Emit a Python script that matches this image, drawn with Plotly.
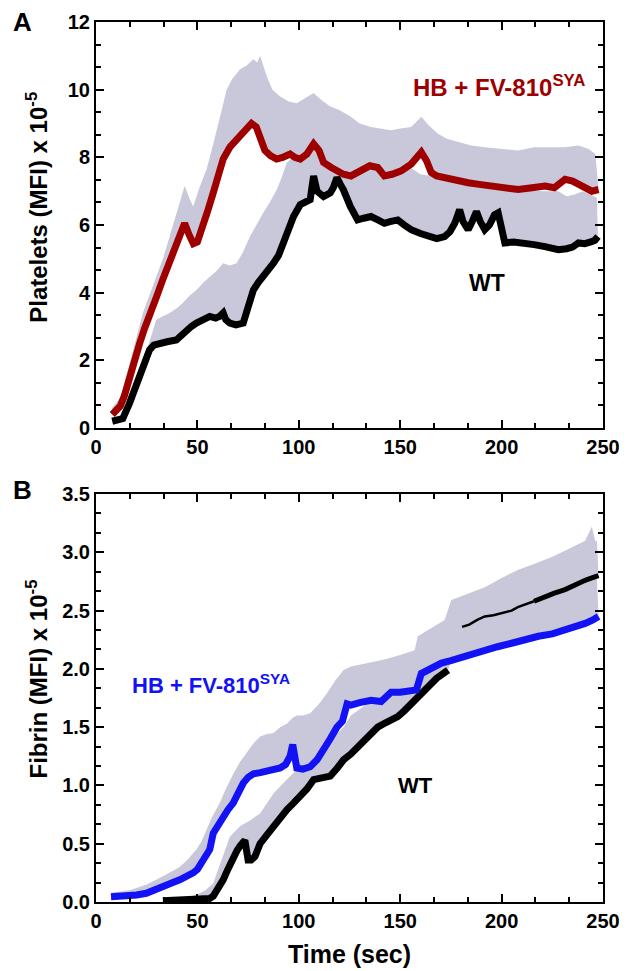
import plotly.graph_objects as go
from plotly.subplots import make_subplots

# ---- panel A: platelets (MFI x 10^-5) ----
hb_plt_x = [8, 10, 12, 14, 16.5, 19, 21.5, 24, 26.5, 30, 33, 36, 38, 41, 43.7, 46, 48, 50, 52.8, 55,
            57.8, 60, 62.7, 66, 71, 74, 76.7, 79, 81, 83.3, 86, 89, 92, 95.7, 98, 100.7, 104, 107.3, 110,
            112.2, 116, 119, 122, 125.7, 129, 132.3, 135, 138.9, 142.2, 146, 150.5, 155.4, 158, 160.4,
            163, 165.3, 168, 171.9, 177, 183.5, 189, 195, 201, 208.2, 215, 221.4, 226, 231.3, 235,
            237.9, 241, 244.5, 247.8]
hb_plt_y = [0.4, 0.55, 0.65, 0.95, 1.5, 2.0, 2.5, 2.95, 3.4, 3.9, 4.4, 4.85, 5.25, 5.6, 6.05, 5.7, 5.45,
            5.5, 5.95, 6.4, 6.95, 7.45, 7.95, 8.3, 8.6, 8.8, 9.0, 8.9, 8.6, 8.2, 8.05, 7.95, 8.0, 8.1, 8.0,
            7.95, 8.1, 8.4, 8.2, 7.85, 7.7, 7.6, 7.5, 7.45, 7.55, 7.7, 7.75, 7.7, 7.45, 7.5, 7.6, 7.8,
            7.95, 8.15, 7.9, 7.55, 7.45, 7.4, 7.3, 7.25, 7.2, 7.15, 7.1, 7.05, 7.1, 7.15, 7.1, 7.35, 7.3,
            7.2, 7.1, 7.0, 7.05]
hb_plt_up_x = [8, 12, 16.5, 20, 23.1, 26.5, 29.7, 33, 35.5, 39.6, 42, 43.7, 46, 47.9, 51, 54.5, 57, 59.4,
               62, 64.4, 67, 71, 74, 77.6, 79.5, 80.9, 82.5, 84.2, 87, 90.8, 95, 99, 103, 107.3, 111,
               115.5, 120, 125.7, 130, 135.6, 140, 145.5, 150, 155.4, 158, 160.4, 164, 168.6, 173, 178.5,
               185, 191.7, 200, 208.2, 216, 224.7, 231, 237.9, 243, 246.2]
hb_plt_up_y = [0.6, 0.9, 1.9, 2.7, 3.4, 3.95, 4.5, 5.0, 5.5, 6.35, 6.8, 7.15, 6.8, 6.55, 7.1, 7.65, 8.2,
               8.75, 9.4, 10.0, 10.3, 10.6, 10.7, 10.9, 10.8, 11.0, 10.7, 10.4, 10.0, 9.8, 9.65, 9.6, 9.75,
               9.9, 9.7, 9.5, 9.4, 9.2, 9.0, 8.9, 8.85, 8.8, 8.85, 8.9, 9.05, 9.2, 8.95, 8.7, 8.55, 8.45,
               8.35, 8.3, 8.25, 8.2, 8.3, 8.3, 8.3, 8.35, 8.25, 8.1]

wt_plt_x = [8, 10, 13.2, 16.5, 19, 21.5, 24, 26.4, 28.5, 31.4, 35, 39.6, 42, 44.6, 47, 49.5, 53, 56.1, 59,
            61, 62.7, 64, 66, 69, 72.6, 75, 77.6, 80, 82.5, 85, 87.5, 90, 92.4, 95, 97.4, 100.7, 103, 105.6,
            107.3, 109, 112.2, 115.5, 117, 118.8, 120.5, 122, 125.4, 129, 132, 135.6, 139, 142.2, 145,
            148.8, 152, 155.4, 160, 165.3, 168, 171.9, 174.5, 176.9, 179.3, 181, 183.5, 185.5, 187.6,
            189.5, 191.7, 194, 196.5, 198.3, 200, 201.6, 206, 211.5, 216, 221.4, 225, 228, 232, 235,
            237.9, 241, 244, 246, 247.5]
wt_plt_y = [0.2, 0.22, 0.28, 0.73, 1.1, 1.52, 1.95, 2.31, 2.45, 2.51, 2.55, 2.6, 2.75, 2.9, 3.0, 3.1, 3.2,
            3.3, 3.25, 3.3, 3.4, 3.2, 3.1, 3.05, 3.1, 3.6, 4.08, 4.3, 4.48, 4.65, 4.87, 5.1, 5.47, 5.85,
            6.25, 6.6, 6.65, 6.75, 7.45, 7.0, 6.84, 6.95, 7.1, 7.4, 7.2, 7.04, 6.55, 6.15, 6.2, 6.25, 6.15,
            6.05, 6.1, 6.15, 6.0, 5.86, 5.75, 5.62, 5.6, 5.66, 5.8, 6.05, 6.45, 6.1, 5.86, 6.1, 6.4, 6.1,
            5.86, 6.0, 6.3, 6.36, 5.9, 5.47, 5.5, 5.47, 5.42, 5.36, 5.32, 5.27, 5.3, 5.35, 5.47, 5.45,
            5.5, 5.55, 5.66]
wt_plt_up_x = [8, 13.2, 16.5, 20, 23.1, 26.5, 29.7, 33, 36.3, 40, 42.9, 46, 49.5, 53, 56.1, 59.5, 62.7, 66,
               69.3, 72.5, 75.9, 79, 82.5, 86, 89.1, 91.5, 94, 97.4, 100.7, 105, 110, 117, 125, 132, 140,
               148, 155, 160, 165, 170, 180, 190, 200, 210, 220, 228, 232, 236, 240, 244, 247]
wt_plt_up_y = [0.3, 0.4, 0.9, 1.4, 1.92, 2.6, 3.2, 3.3, 3.4, 3.55, 3.7, 3.9, 4.08, 4.3, 4.48, 4.65, 4.87,
               4.8, 4.87, 5.2, 5.66, 6.0, 6.36, 6.7, 7.04, 7.4, 7.83, 8.03, 8.15, 8.3, 8.4, 8.0, 7.8, 7.7,
               7.65, 7.6, 7.7, 7.5, 7.45, 7.4, 7.3, 7.2, 7.1, 7.05, 7.0, 7.0, 6.85, 6.9, 7.0, 6.9, 6.8]

# ---- panel B: fibrin (MFI x 10^-5) ----
hb_fib_x = [7.4, 12, 16.5, 20, 24.8, 29, 33, 37, 41.3, 45, 47.9, 50, 52.8, 54.5, 56.1, 57.8, 60, 62.7, 65,
            67.7, 70, 72.6, 75, 77.6, 81, 84.2, 87, 90.8, 93.5, 95.7, 97, 99, 102, 105.6, 109, 112.2,
            115.5, 118.8, 121.5, 123.8, 125.7, 130, 135.6, 140.6, 143, 145.5, 150, 155.4, 158, 160.4, 165,
            170.3, 175, 180.2, 186, 191.7, 198, 204.9, 211, 218.1, 225, 231.3, 236, 241.2, 245, 247.8]
hb_fib_y = [0.045, 0.045, 0.045, 0.06, 0.075, 0.1, 0.13, 0.16, 0.19, 0.22, 0.25, 0.28, 0.36, 0.4, 0.45,
            0.59, 0.66, 0.73, 0.79, 0.85, 0.93, 1.02, 1.07, 1.1, 1.11, 1.12, 1.13, 1.15, 1.18, 1.25, 1.35,
            1.15, 1.14, 1.16, 1.22, 1.3, 1.4, 1.5, 1.55, 1.7, 1.69, 1.71, 1.73, 1.72, 1.77, 1.8, 1.8, 1.81,
            1.82, 1.96, 2.0, 2.05, 2.07, 2.1, 2.13, 2.16, 2.19, 2.22, 2.25, 2.28, 2.3, 2.33, 2.35, 2.39,
            2.42, 2.45]
hb_fib_up_x = [7.4, 16.5, 25, 33, 41.3, 45, 49.5, 52, 54.5, 57, 61, 64, 67.7, 71, 74.3, 77.6, 80.9, 84,
               87.5, 90.8, 94.1, 97, 99, 102, 105.6, 110, 113.9, 118, 122.1, 125.7, 134, 142.2, 150, 157.1,
               158.7, 165, 171.9, 175.2, 183, 191.7, 200, 208.2, 216, 224.7, 232, 241.2, 244.5, 246.2]
hb_fib_up_y = [0.08, 0.1, 0.15, 0.22, 0.3, 0.36, 0.45, 0.52, 0.62, 0.72, 0.85, 0.97, 1.1, 1.2, 1.28, 1.36,
               1.42, 1.44, 1.45, 1.5, 1.53, 1.58, 1.6, 1.6, 1.62, 1.7, 1.79, 1.9, 1.99, 2.02, 2.05, 2.08,
               2.12, 2.16, 2.28, 2.35, 2.42, 2.59, 2.64, 2.7, 2.78, 2.85, 2.9, 2.96, 3.02, 3.1, 3.22, 3.1]

wt_fib_x = [33, 38, 43, 48, 53, 56, 57.8, 60, 62.7, 65, 67.7, 69.5, 71, 73.4, 75, 76.5, 78.4, 80.9, 84,
            87.5, 91, 94.1, 97.5, 100.7, 104, 107.3, 111, 115.5, 119, 122.1, 125.7, 129, 132.3, 135.5,
            138.9, 143, 148.8, 152, 155.4, 159, 163.7, 168, 173.6]
wt_fib_y = [0.01, 0.015, 0.02, 0.02, 0.02, 0.03, 0.05, 0.11, 0.19, 0.28, 0.39, 0.44, 0.48, 0.53, 0.36,
            0.36, 0.39, 0.5, 0.57, 0.65, 0.72, 0.79, 0.85, 0.9, 0.97, 1.05, 1.07, 1.08, 1.15, 1.22, 1.27,
            1.33, 1.39, 1.45, 1.5, 1.54, 1.59, 1.64, 1.7, 1.77, 1.85, 1.92, 1.99]
# sparse tail (thin, broken in the original)
wt_fib_tail_x = [180.5, 184, 188, 191.7, 196, 200, 204.9, 208, 211.5, 216]
wt_fib_tail_y = [2.36, 2.38, 2.42, 2.45, 2.46, 2.48, 2.5, 2.53, 2.55, 2.58]
wt_fib_end_x = [216, 221.4, 226, 231.3, 236, 241.2, 244.5, 247.8]
wt_fib_end_y = [2.58, 2.62, 2.65, 2.68, 2.72, 2.76, 2.78, 2.8]
wt_fib_up_x = [33, 45, 49.5, 54, 57.8, 60, 62.7, 66, 71, 75.9, 80.9, 84, 87.5, 94.1, 99, 103, 107.3, 111,
               115.5, 122.1, 125.7, 132, 140, 148, 155, 165, 175, 182, 190, 200, 210, 220, 230, 240, 247]
wt_fib_up_y = [0.02, 0.04, 0.06, 0.1, 0.16, 0.27, 0.39, 0.56, 0.65, 0.7, 0.76, 0.84, 0.93, 1.05, 1.13,
               1.2, 1.28, 1.33, 1.39, 1.5, 1.6, 1.68, 1.75, 1.8, 1.85, 2.0, 2.2, 2.55, 2.62, 2.7, 2.78,
               2.88, 2.96, 3.05, 3.1]

x_ticks = [0, 50, 100, 150, 200, 250]

FONT = "Liberation Sans, Arial, sans-serif"
BAND = "rgb(200,200,218)"
RED = "rgb(158,0,0)"
BLUE = "rgb(18,18,245)"
LW = 7

fig = make_subplots(rows=2, cols=1)


def band(ux, uy, mx, my, row):
    fig.add_trace(go.Scatter(x=ux + mx[::-1], y=uy + my[::-1], fill="toself", fillcolor=BAND,
                             mode="lines", line=dict(width=0), hoverinfo="skip",
                             showlegend=False), row=row, col=1)


def line(x, y, color, width, row):
    fig.add_trace(go.Scatter(x=x, y=y, mode="lines", line=dict(color=color, width=width),
                             showlegend=False), row=row, col=1)


band(hb_plt_up_x, hb_plt_up_y, hb_plt_x, hb_plt_y, 1)
band(wt_plt_up_x, wt_plt_up_y, wt_plt_x, wt_plt_y, 1)
line(wt_plt_x, wt_plt_y, "black", LW, 1)
line(hb_plt_x, hb_plt_y, RED, LW, 1)

band(hb_fib_up_x, hb_fib_up_y, hb_fib_x, hb_fib_y, 2)
band(wt_fib_up_x, wt_fib_up_y, wt_fib_x + wt_fib_tail_x + wt_fib_end_x[1:],
     wt_fib_y + wt_fib_tail_y + wt_fib_end_y[1:], 2)
line(wt_fib_x, wt_fib_y, "black", LW, 2)
line(wt_fib_tail_x, wt_fib_tail_y, "black", 2.5, 2)
line(wt_fib_end_x, wt_fib_end_y, "black", 5, 2)
line(hb_fib_x, hb_fib_y, BLUE, LW, 2)

axis_common = dict(showline=True, linecolor="black", linewidth=2, mirror="ticks", ticks="inside",
                   ticklen=8, tickwidth=2, tickcolor="black", showgrid=False, zeroline=False,
                   automargin=False,
                   tickfont=dict(family=FONT, size=20, color="black", weight="bold"))

for r in (1, 2):
    fig.update_xaxes(range=[0, 250], tickvals=x_ticks,
                     minor=dict(dtick=50 / 3, tick0=0, ticks="inside", ticklen=5, tickwidth=1.5,
                                tickcolor="black"),
                     row=r, col=1, **axis_common)

fig.update_yaxes(range=[0, 12], dtick=2,
                 minor=dict(dtick=2 / 3, tick0=0, ticks="inside", ticklen=5, tickwidth=1.5,
                            tickcolor="black"),
                 row=1, col=1, **axis_common)
fig.update_yaxes(range=[0, 3.5], dtick=0.5, tickformat=".1f",
                 minor=dict(dtick=0.5 / 3, tick0=0, ticks="inside", ticklen=5, tickwidth=1.5,
                            tickcolor="black"),
                 row=2, col=1, **axis_common)
fig.update_xaxes(title=dict(text="Time (sec)",
                            font=dict(family=FONT, size=25, color="black", weight="bold"), standoff=14),
                 row=2, col=1)

title_font = dict(family=FONT, size=24, color="black", weight="bold")

# the page body adds an 8 px offset, so the figure is shifted back by that much
fig.update_layout(
    width=619, height=963,
    margin=dict(l=88, r=24, t=14, b=69),
    paper_bgcolor="white", plot_bgcolor="white",
    xaxis=dict(domain=[0, 1]), yaxis=dict(domain=[0.5386, 1.0]),
    xaxis2=dict(domain=[0, 1]), yaxis2=dict(domain=[0, 0.4636]),
    annotations=[
        dict(text="Platelets (MFI) x 10<sup>-5</sup>", x=-0.1164, y=0.79, xref="paper", yref="paper",
             textangle=-90, xanchor="center", yanchor="middle", showarrow=False, font=title_font),
        dict(text="Fibrin (MFI) x 10<sup>-5</sup>", x=-0.1164, y=0.254, xref="paper", yref="paper",
             textangle=-90, xanchor="center", yanchor="middle", showarrow=False, font=title_font),
        dict(text="A", x=-0.168, y=1.0, xref="paper", yref="paper", xanchor="left", yanchor="middle",
             showarrow=False, font=dict(family=FONT, size=26, color="black", weight="bold")),
        dict(text="B", x=-0.168, y=0.468, xref="paper", yref="paper", xanchor="left", yanchor="middle",
             showarrow=False, font=dict(family=FONT, size=26, color="black", weight="bold")),
        dict(text="HB + FV-810<sup>SYA</sup>", x=155.5, y=10.1, xref="x", yref="y", xanchor="left",
             yanchor="middle", showarrow=False,
             font=dict(family=FONT, size=24, color=RED, weight="bold")),
        dict(text="WT", x=192.6, y=4.29, xref="x", yref="y", xanchor="center", yanchor="middle",
             showarrow=False, font=dict(family=FONT, size=23, color="black", weight="bold")),
        dict(text="HB + FV-810<sup>SYA</sup>", x=17.0, y=1.87, xref="x2", yref="y2", xanchor="left",
             yanchor="middle", showarrow=False,
             font=dict(family=FONT, size=22, color=BLUE, weight="bold")),
        dict(text="WT", x=157.4, y=1.0, xref="x2", yref="y2", xanchor="center", yanchor="middle",
             showarrow=False, font=dict(family=FONT, size=22, color="black", weight="bold")),
    ],
)

fig.write_html("out.html")
